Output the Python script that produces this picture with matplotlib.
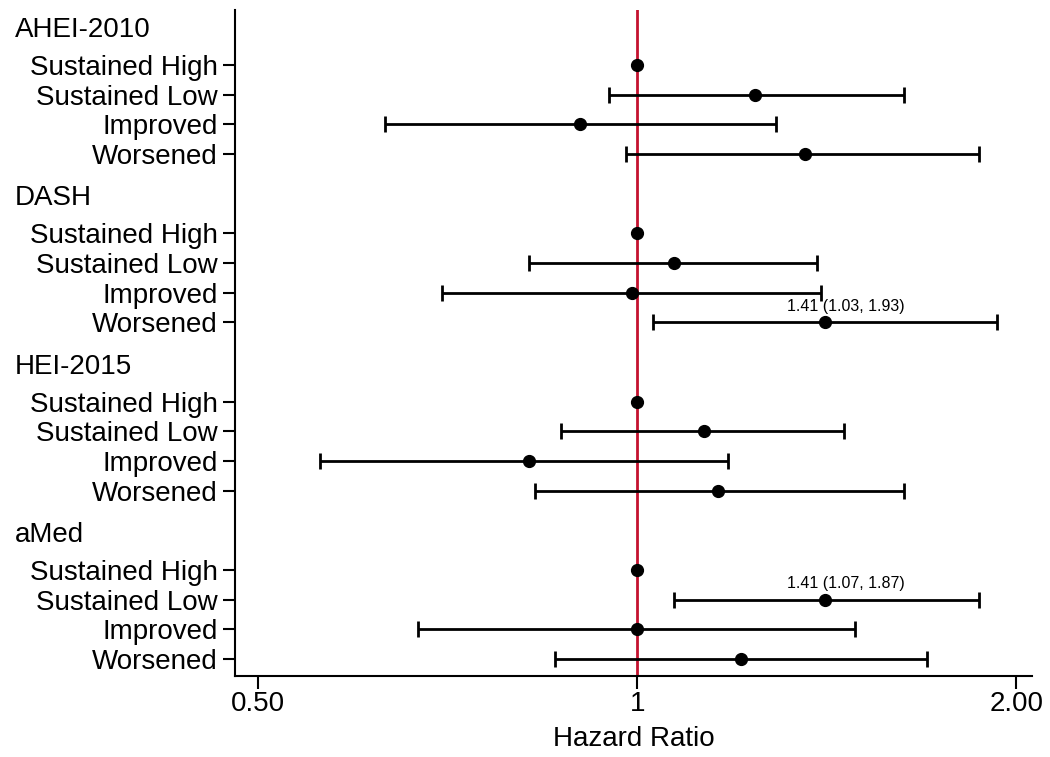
import numpy as np
import matplotlib
matplotlib.use('Agg')
import matplotlib.pyplot as plt

plt.rcParams['font.family'] = ['Liberation Sans', 'DejaVu Sans']

groups = ['AHEI-2010', 'DASH', 'HEI-2015', 'aMed']
rows = ['Sustained High', 'Sustained Low', 'Improved', 'Worsened']

# hazard ratio, lower, upper (one list per diet score, in row order)
hr = {
    'AHEI-2010': [1.00, 1.24, 0.90, 1.36],
    'DASH':      [1.00, 1.07, 0.99, 1.41],
    'HEI-2015':  [1.00, 1.13, 0.82, 1.16],
    'aMed':      [1.00, 1.41, 1.00, 1.21],
}
lo = {
    'AHEI-2010': [np.nan, 0.95, 0.63, 0.98],
    'DASH':      [np.nan, 0.82, 0.70, 1.03],
    'HEI-2015':  [np.nan, 0.87, 0.56, 0.83],
    'aMed':      [np.nan, 1.07, 0.67, 0.86],
}
hi = {
    'AHEI-2010': [np.nan, 1.63, 1.29, 1.87],
    'DASH':      [np.nan, 1.39, 1.40, 1.93],
    'HEI-2015':  [np.nan, 1.46, 1.18, 1.63],
    'aMed':      [np.nan, 1.87, 1.49, 1.70],
}
# highlighted estimates: (group, row index)
labelled = [('DASH', 3), ('aMed', 1)]

xticks = [0.5, 1, 2]
xticklabels = ['0.50', '1', '2.00']

fig = plt.figure(figsize=(10.5, 7.57), dpi=100)
ax = fig.add_axes([0.2238, 0.107, 0.7592, 0.880])

gap = 5.67
ytick_pos, ytick_lab = [], []
for g, name in enumerate(groups):
    y = g * gap + np.arange(len(rows))
    h = np.array(hr[name])
    l = np.array(lo[name])
    u = np.array(hi[name])
    ax.errorbar(h, y, xerr=[h - l, u - h], fmt='o', color='black', ms=8.5,
                ecolor='black', elinewidth=2, capsize=5.5, capthick=2, zorder=3)
    ytick_pos += list(y)
    ytick_lab += rows
    ax.text(-0.276, g * gap - 1.18, name, transform=ax.get_yaxis_transform(),
            fontsize=20, ha='left', va='center')

for name, i in labelled:
    y = groups.index(name) * gap + i
    txt = '%.2f (%.2f, %.2f)' % (hr[name][i], lo[name][i], hi[name][i])
    ax.annotate(txt, (hr[name][i], y), xytext=(15, 6), textcoords='offset points',
                ha='center', va='bottom', fontsize=11.5)

ax.axvline(1, color='#c4122f', lw=2, zorder=2)

ax.set_xscale('log')
ax.set_xlim(0.4793, 2.059)
ax.set_xticks(xticks)
ax.set_xticklabels(xticklabels)
ax.xaxis.set_minor_locator(matplotlib.ticker.NullLocator())
ax.set_yticks(ytick_pos)
ax.set_yticklabels(ytick_lab)
ax.set_ylim(3 * gap + 3.57, -1.86)
ax.tick_params(axis='both', labelsize=20, length=9, width=1.5, color='black')
ax.tick_params(axis='x', pad=2)
ax.set_xlabel('Hazard Ratio', fontsize=20, labelpad=6)

for s in ['top', 'right']:
    ax.spines[s].set_visible(False)
for s in ['left', 'bottom']:
    ax.spines[s].set_linewidth(1.5)

fig.savefig('out.png', dpi=100)
